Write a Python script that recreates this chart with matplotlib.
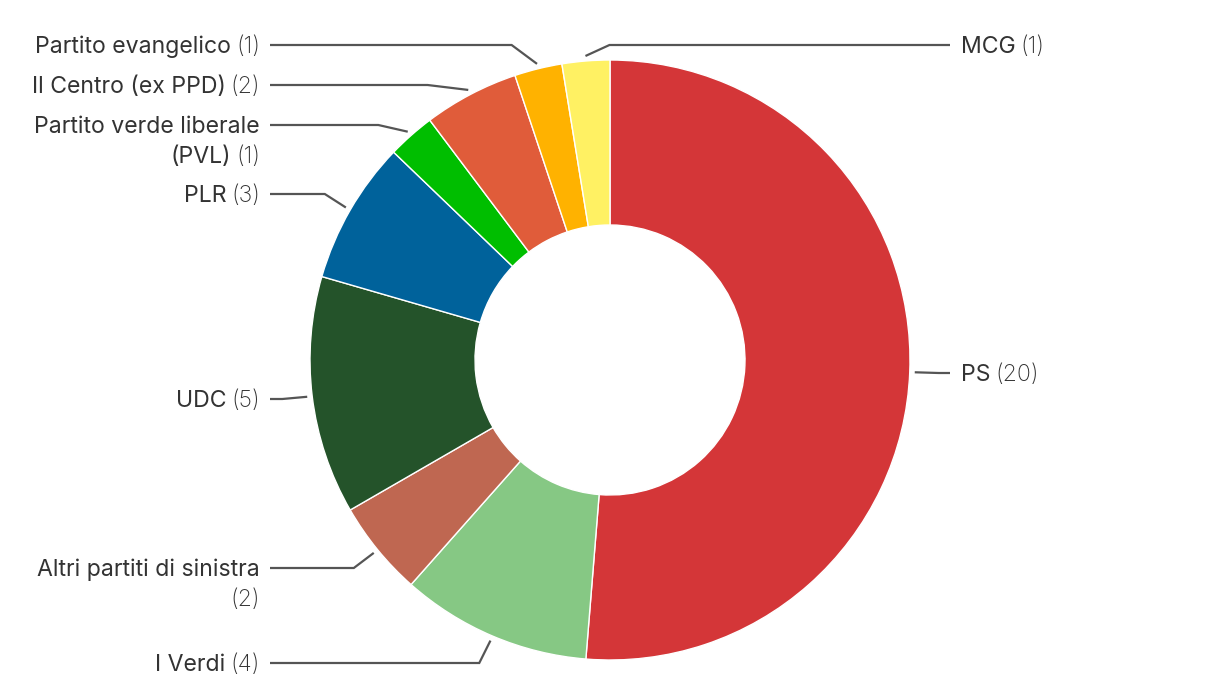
import numpy as np
import matplotlib
matplotlib.use("Agg")
import matplotlib.pyplot as plt

# seats per party, clockwise from the top
parties = ["PS", "I Verdi", "Altri partiti di sinistra", "UDC", "PLR",
           "Partito verde liberale", "Il Centro (ex PPD)", "Partito evangelico", "MCG"]
seats = [20, 4, 2, 5, 3, 1, 2, 1, 1]
colors = ["#d43638", "#86c884", "#bf6751", "#24532a", "#00629b",
          "#00be00", "#e05c3a", "#ffb200", "#fff163"]

# label layout (pixel rows of the first text line, side, and where names wrap)
label_rows = [373, 663, 568, 399, 194, 125, 85, 45, 45]
label_side = ["right", "left", "left", "left", "left", "left", "left", "left", "right"]
label_lines = [["PS"], ["I Verdi"], ["Altri partiti di sinistra", ""], ["UDC"], ["PLR"],
               ["Partito verde liberale", "(PVL)"], ["Il Centro (ex PPD)"],
               ["Partito evangelico"], ["MCG"]]

W, H = 1220, 700
cx, cy = 610, 360
R, r_in = 300, 135

plt.rcParams["font.family"] = ["Inter", "DejaVu Sans"]
fig = plt.figure(figsize=(W / 100, H / 100), dpi=100)
ax = fig.add_axes([0, 0, 1, 1])


def fy(y):
    return H - y


ax.pie(seats, colors=colors, startangle=90, counterclock=False, radius=R,
       center=(cx, fy(cy)), wedgeprops=dict(width=R - r_in, edgecolor="white", linewidth=1))
ax.set_xlim(0, W)
ax.set_ylim(0, H)
ax.set_aspect("equal")
ax.axis("off")

fig.canvas.draw()
renderer = fig.canvas.get_renderer()

total = sum(seats)
cum = np.cumsum([0] + seats)
fs = 16.6
line_h = 30
gap = 5
for i, name in enumerate(parties):
    mid = (cum[i] + seats[i] / 2) / total * 2 * np.pi
    sx, sy = np.sin(mid), -np.cos(mid)
    ex, ey = cx + 305 * sx, cy + 305 * sy
    ly = label_rows[i]
    dy = ly - cy
    off = np.sqrt(max(330 ** 2 - dy ** 2, 0))
    left = label_side[i] == "left"
    if left:
        elbow = cx - off
        lx0, tx = 270, 260
    else:
        elbow = min(cx + off, ex + 24)
        lx0, tx = 950, 961
    ax.plot([ex, elbow, lx0], [fy(ey), fy(ly), fy(ly)], color="#555555", lw=1.6,
            solid_capstyle="butt", solid_joinstyle="miter")

    lines = label_lines[i]
    val = f"({seats[i]})"
    for k, txt in enumerate(lines):
        yy = fy(ly + k * line_h + 2)
        last = k == len(lines) - 1
        if left:
            x = tx
            if last:
                t = ax.text(x, yy, val, ha="right", va="center", fontsize=fs,
                            color="#333333", fontweight="light")
                w = t.get_window_extent(renderer).width
                x = x - w - gap
            if txt:
                ax.text(x, yy, txt, ha="right", va="center", fontsize=fs, color="#333333")
        else:
            x = tx
            if txt:
                t = ax.text(x, yy, txt, ha="left", va="center", fontsize=fs, color="#333333")
                x = x + t.get_window_extent(renderer).width + gap
            if last:
                ax.text(x, yy, val, ha="left", va="center", fontsize=fs,
                        color="#333333", fontweight="light")

fig.savefig("out.png", dpi=100)
